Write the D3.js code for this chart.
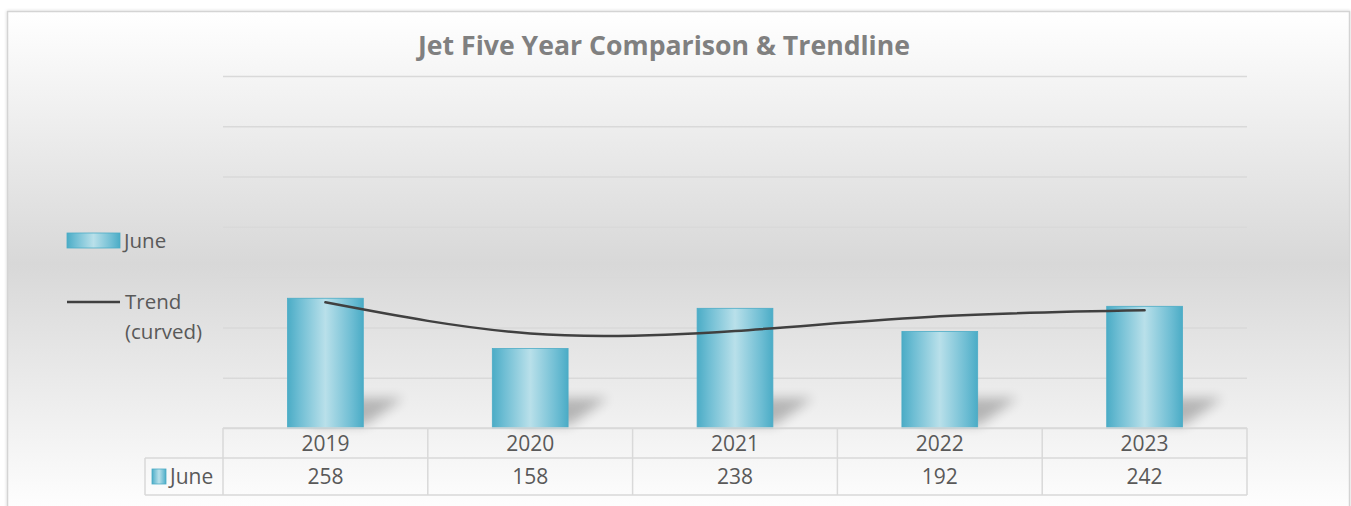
<!DOCTYPE html>
<html lang="en">
<head>
<meta charset="UTF-8" />
<title>Jet Five Year Comparison</title>
<script src="https://d3js.org/d3.v7.min.js"></script>
<style>
  html, body { margin: 0; padding: 0; background: #fff; }
  svg { display: block; font-family: "Open Sans", "DejaVu Sans", sans-serif; }
</style>
</head>
<body>
<div id="chart"></div>
<script>
  // data
  const years = ['2019', '2020', '2021', '2022', '2023'];
  const june = [258, 158, 238, 192, 242];
  const trend = [250, 188, 193, 222, 234];   // polynomial trendline, read at each year
  const yTicks = [0, 100, 200, 300, 400, 500, 600, 700];

  const W = 1351, H = 506;
  const plot = {left: 223, right: 1247, top: 76, bottom: 428};
  const textCol = '#595959';

  const svg = d3.select('#chart').append('svg').attr('width', W).attr('height', H);
  const defs = svg.append('defs');

  const bg = defs.append('linearGradient').attr('id', 'bg').attr('x1', 0).attr('y1', 0).attr('x2', 0).attr('y2', 1);
  bg.append('stop').attr('offset', '0%').attr('stop-color', '#ffffff');
  bg.append('stop').attr('offset', '50%').attr('stop-color', '#d8d8d8');
  bg.append('stop').attr('offset', '100%').attr('stop-color', '#ffffff');

  const barG = defs.append('linearGradient').attr('id', 'barFill').attr('x1', 0).attr('y1', 0).attr('x2', 1).attr('y2', 0);
  [['0%', '#4bacc6'], ['15%', '#6dbdd3'], ['50%', '#b9e0ea'], ['85%', '#6dbdd3'], ['100%', '#4bacc6']]
    .forEach(s => barG.append('stop').attr('offset', s[0]).attr('stop-color', s[1]));

  defs.append('filter').attr('id', 'blur').attr('x', '-50%').attr('y', '-50%').attr('width', '200%').attr('height', '200%')
    .append('feGaussianBlur').attr('stdDeviation', 6);
  defs.append('filter').attr('id', 'frameShadow').attr('x', '-5%').attr('y', '-5%').attr('width', '110%').attr('height', '110%')
    .append('feDropShadow').attr('dx', 0).attr('dy', 0).attr('stdDeviation', 1.5).attr('flood-color', '#000').attr('flood-opacity', 0.18);

  // chart frame
  svg.append('rect')
    .attr('x', 7.5).attr('y', 11.5).attr('width', 1342).attr('height', 505)
    .attr('fill', 'url(#bg)').attr('stroke', '#d4d4d4').attr('stroke-width', 1.5)
    .attr('filter', 'url(#frameShadow)');

  // title
  svg.append('text')
    .attr('x', 418).attr('y', 55)
    .attr('textLength', 492).attr('lengthAdjust', 'spacingAndGlyphs')
    .attr('font-size', 27).attr('font-weight', 700).attr('fill', '#808080')
    .text('Jet Five Year Comparison & Trendline');

  const x = d3.scaleBand().domain(years).range([plot.left, plot.right]).padding(0);
  const xBar = d3.scaleBand().domain(years).range([plot.left, plot.right]).paddingInner(0.63).paddingOuter(0.315);
  const y = d3.scaleLinear().domain([0, 700]).range([plot.bottom, plot.top]);

  // gridlines
  const grid = svg.append('g').attr('transform', `translate(${plot.left},0)`)
    .call(d3.axisLeft(y).tickValues(yTicks).tickSize(-(plot.right - plot.left)).tickFormat(''));
  grid.select('.domain').remove();
  grid.selectAll('.tick line').attr('stroke', '#d9d9d9').attr('stroke-width', 1.5);

  // bar shadows
  svg.append('g').selectAll('polygon').data(years).join('polygon')
    .attr('points', d => {
      const l = xBar(d), r = l + xBar.bandwidth();
      return [[l + 20, plot.bottom - 3], [r + 2, plot.bottom - 3], [r + 40, plot.bottom - 30], [l + 40, plot.bottom - 30]]
        .map(p => p.join(',')).join(' ');
    })
    .attr('fill', '#000').attr('opacity', 0.24).attr('filter', 'url(#blur)');

  // bars
  svg.append('g').selectAll('rect').data(june).join('rect')
    .attr('x', (d, i) => xBar(years[i]))
    .attr('y', d => y(d))
    .attr('width', xBar.bandwidth())
    .attr('height', d => plot.bottom - y(d))
    .attr('fill', 'url(#barFill)')
    .attr('stroke', '#4bacc6').attr('stroke-width', 0.8);

  // trendline
  svg.append('path').datum(trend)
    .attr('fill', 'none').attr('stroke', '#404040').attr('stroke-width', 2.5).attr('stroke-linecap', 'round')
    .attr('d', d3.line().x((d, i) => x(years[i]) + x.bandwidth() / 2).y(d => y(d)).curve(d3.curveNatural));

  // data table
  const rowTop = 428, rowMid = 458, rowBot = 495, labelLeft = 145;
  const tbl = svg.append('g').attr('stroke', '#d9d9d9').attr('stroke-width', 1.5).attr('fill', 'none');
  tbl.append('line').attr('x1', plot.left).attr('x2', plot.right).attr('y1', rowTop).attr('y2', rowTop);
  tbl.append('line').attr('x1', labelLeft).attr('x2', plot.right).attr('y1', rowMid).attr('y2', rowMid);
  tbl.append('line').attr('x1', labelLeft).attr('x2', plot.right).attr('y1', rowBot).attr('y2', rowBot);
  tbl.append('line').attr('x1', labelLeft).attr('x2', labelLeft).attr('y1', rowMid).attr('y2', rowBot);
  tbl.selectAll('.vline').data(years.concat(['end'])).join('line').attr('class', 'vline')
    .attr('x1', (d, i) => plot.left + i * x.step()).attr('x2', (d, i) => plot.left + i * x.step())
    .attr('y1', rowTop).attr('y2', rowBot);

  svg.append('g').selectAll('text').data(years).join('text')
    .attr('x', d => x(d) + x.bandwidth() / 2).attr('y', 451)
    .attr('text-anchor', 'middle').attr('font-size', 21).attr('fill', textCol)
    .text(d => d);
  svg.append('g').selectAll('text').data(june).join('text')
    .attr('x', (d, i) => x(years[i]) + x.bandwidth() / 2).attr('y', 484)
    .attr('text-anchor', 'middle').attr('font-size', 21).attr('fill', textCol)
    .text(d => d);

  svg.append('rect').attr('x', 152).attr('y', 469).attr('width', 14).attr('height', 15)
    .attr('fill', 'url(#barFill)').attr('stroke', '#4bacc6').attr('stroke-width', 0.8);
  svg.append('text').attr('x', 170).attr('y', 484).attr('font-size', 21).attr('fill', textCol).text('June');

  // legend
  svg.append('rect').attr('x', 67).attr('y', 233).attr('width', 53).attr('height', 15)
    .attr('fill', 'url(#barFill)').attr('stroke', '#4bacc6').attr('stroke-width', 0.8);
  svg.append('text').attr('x', 124).attr('y', 248).attr('font-size', 20.5).attr('fill', textCol).text('June');
  svg.append('line').attr('x1', 67).attr('x2', 120).attr('y1', 302).attr('y2', 302)
    .attr('stroke', '#404040').attr('stroke-width', 2.5);
  svg.append('text').attr('x', 125).attr('y', 309).attr('font-size', 20.5).attr('fill', textCol).text('Trend');
  svg.append('text').attr('x', 125).attr('y', 339).attr('font-size', 20.5).attr('fill', textCol).text('(curved)');
</script>
</body>
</html>
